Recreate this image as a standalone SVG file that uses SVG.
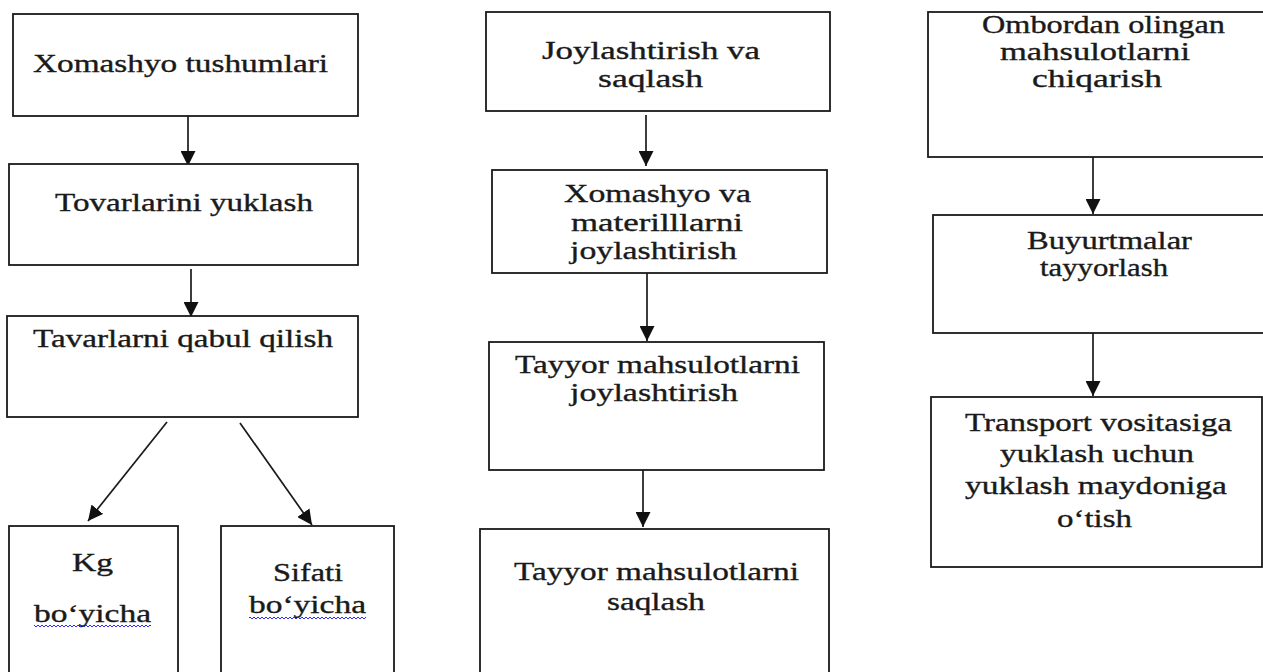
<svg xmlns="http://www.w3.org/2000/svg" width="1263" height="672" viewBox="0 0 1263 672">
<style>
.box{fill:#fff;stroke:#1a1a1a;stroke-width:1.8}
.t{font-family:"Liberation Serif","Times New Roman",serif;font-size:25px;fill:#1a1a1a;stroke:#1a1a1a;stroke-width:0.35}
.c{stroke:#1a1a1a;stroke-width:1.7;fill:none;marker-end:url(#ah)}
</style>
<defs>
<marker id="ah" markerUnits="userSpaceOnUse" markerWidth="15" markerHeight="15" refX="15" refY="7.5" orient="auto" viewBox="0 0 15 15">
<path d="M0,0 L15,7.5 L0,15 z" fill="#111"/>
</marker>
<pattern id="wave" width="4" height="4" patternUnits="userSpaceOnUse">
<path d="M0,3 L2,1 L4,3" stroke="#2b2bff" stroke-width="1" fill="none"/>
</pattern>
</defs>
<rect width="1263" height="672" fill="#fff"/>

<g id="connectors">
<line class="c" x1="188" y1="116" x2="188" y2="166"/>
<line class="c" x1="191" y1="269" x2="191" y2="317"/>
<line class="c" x1="167" y1="422" x2="88" y2="521"/>
<line class="c" x1="240" y1="423" x2="312" y2="525"/>
<line class="c" x1="646" y1="115" x2="646" y2="166"/>
<line class="c" x1="647" y1="273" x2="647" y2="341"/>
<line class="c" x1="643" y1="470" x2="643" y2="527"/>
<line class="c" x1="1093" y1="157" x2="1093" y2="214"/>
<line class="c" x1="1093" y1="333" x2="1093" y2="396"/>
</g>

<g id="xomashyo-tushumlari">
<rect class="box" x="13" y="14" width="345" height="102"/>
<text class="t" x="33" y="72" textLength="295" lengthAdjust="spacingAndGlyphs">Xomashyo tushumlari</text>
</g>
<g id="tovarlarini-yuklash">
<rect class="box" x="9" y="164" width="349" height="101"/>
<text class="t" x="55" y="211" textLength="258" lengthAdjust="spacingAndGlyphs">Tovarlarini yuklash</text>
</g>
<g id="tavarlarni-qabul">
<rect class="box" x="7" y="316" width="351" height="101"/>
<text class="t" x="33" y="347" textLength="300" lengthAdjust="spacingAndGlyphs">Tavarlarni qabul qilish</text>
</g>
<g id="kg-boyicha">
<rect class="box" x="9" y="526" width="169" height="200"/>
<text class="t" x="72" y="571" textLength="41" lengthAdjust="spacingAndGlyphs">Kg</text>
<text class="t" x="34" y="622" textLength="117" lengthAdjust="spacingAndGlyphs">bo‘yicha</text>
<rect x="34" y="625" width="117" height="4" fill="url(#wave)"/>
</g>
<g id="sifati-boyicha">
<rect class="box" x="221" y="526" width="173" height="200"/>
<text class="t" x="273" y="581" textLength="70" lengthAdjust="spacingAndGlyphs">Sifati</text>
<text class="t" x="249" y="613" textLength="117" lengthAdjust="spacingAndGlyphs">bo‘yicha</text>
<rect x="249" y="616" width="117" height="4" fill="url(#wave)"/>
</g>

<g id="joylashtirish-saqlash">
<rect class="box" x="486" y="12" width="344" height="99"/>
<text class="t" x="542" y="59" textLength="218" lengthAdjust="spacingAndGlyphs">Joylashtirish va</text>
<text class="t" x="598" y="87" textLength="105" lengthAdjust="spacingAndGlyphs">saqlash</text>
</g>
<g id="xomashyo-materiallar">
<rect class="box" x="492" y="170" width="335" height="103"/>
<text class="t" x="564" y="202" textLength="187" lengthAdjust="spacingAndGlyphs">Xomashyo va</text>
<text class="t" x="571" y="231" textLength="172" lengthAdjust="spacingAndGlyphs">materilllarni</text>
<text class="t" x="570" y="259" textLength="167" lengthAdjust="spacingAndGlyphs">joylashtirish</text>
</g>
<g id="tayyor-joylashtirish">
<rect class="box" x="489" y="342" width="335" height="128"/>
<text class="t" x="515" y="373" textLength="285" lengthAdjust="spacingAndGlyphs">Tayyor mahsulotlarni</text>
<text class="t" x="570" y="401" textLength="168" lengthAdjust="spacingAndGlyphs">joylashtirish</text>
</g>
<g id="tayyor-saqlash">
<rect class="box" x="480" y="529" width="349" height="200"/>
<text class="t" x="514" y="580" textLength="285" lengthAdjust="spacingAndGlyphs">Tayyor mahsulotlarni</text>
<text class="t" x="607" y="610" textLength="98" lengthAdjust="spacingAndGlyphs">saqlash</text>
</g>

<g id="ombordan-chiqarish">
<rect class="box" x="928" y="12" width="345" height="145"/>
<text class="t" x="982" y="33" textLength="243" lengthAdjust="spacingAndGlyphs">Ombordan olingan</text>
<text class="t" x="1000" y="60" textLength="190" lengthAdjust="spacingAndGlyphs">mahsulotlarni</text>
<text class="t" x="1032" y="87" textLength="130" lengthAdjust="spacingAndGlyphs">chiqarish</text>
</g>
<g id="buyurtmalar">
<rect class="box" x="933" y="215" width="340" height="118"/>
<text class="t" x="1027" y="249" textLength="165" lengthAdjust="spacingAndGlyphs">Buyurtmalar</text>
<text class="t" x="1040" y="276" textLength="128" lengthAdjust="spacingAndGlyphs">tayyorlash</text>
</g>
<g id="transport">
<rect class="box" x="931" y="397" width="331" height="170"/>
<text class="t" x="965" y="431" textLength="267" lengthAdjust="spacingAndGlyphs">Transport vositasiga</text>
<text class="t" x="1000" y="462" textLength="194" lengthAdjust="spacingAndGlyphs">yuklash uchun</text>
<text class="t" x="965" y="494" textLength="262" lengthAdjust="spacingAndGlyphs">yuklash maydoniga</text>
<text class="t" x="1057" y="527" textLength="75" lengthAdjust="spacingAndGlyphs">o‘tish</text>
</g>
</svg>
